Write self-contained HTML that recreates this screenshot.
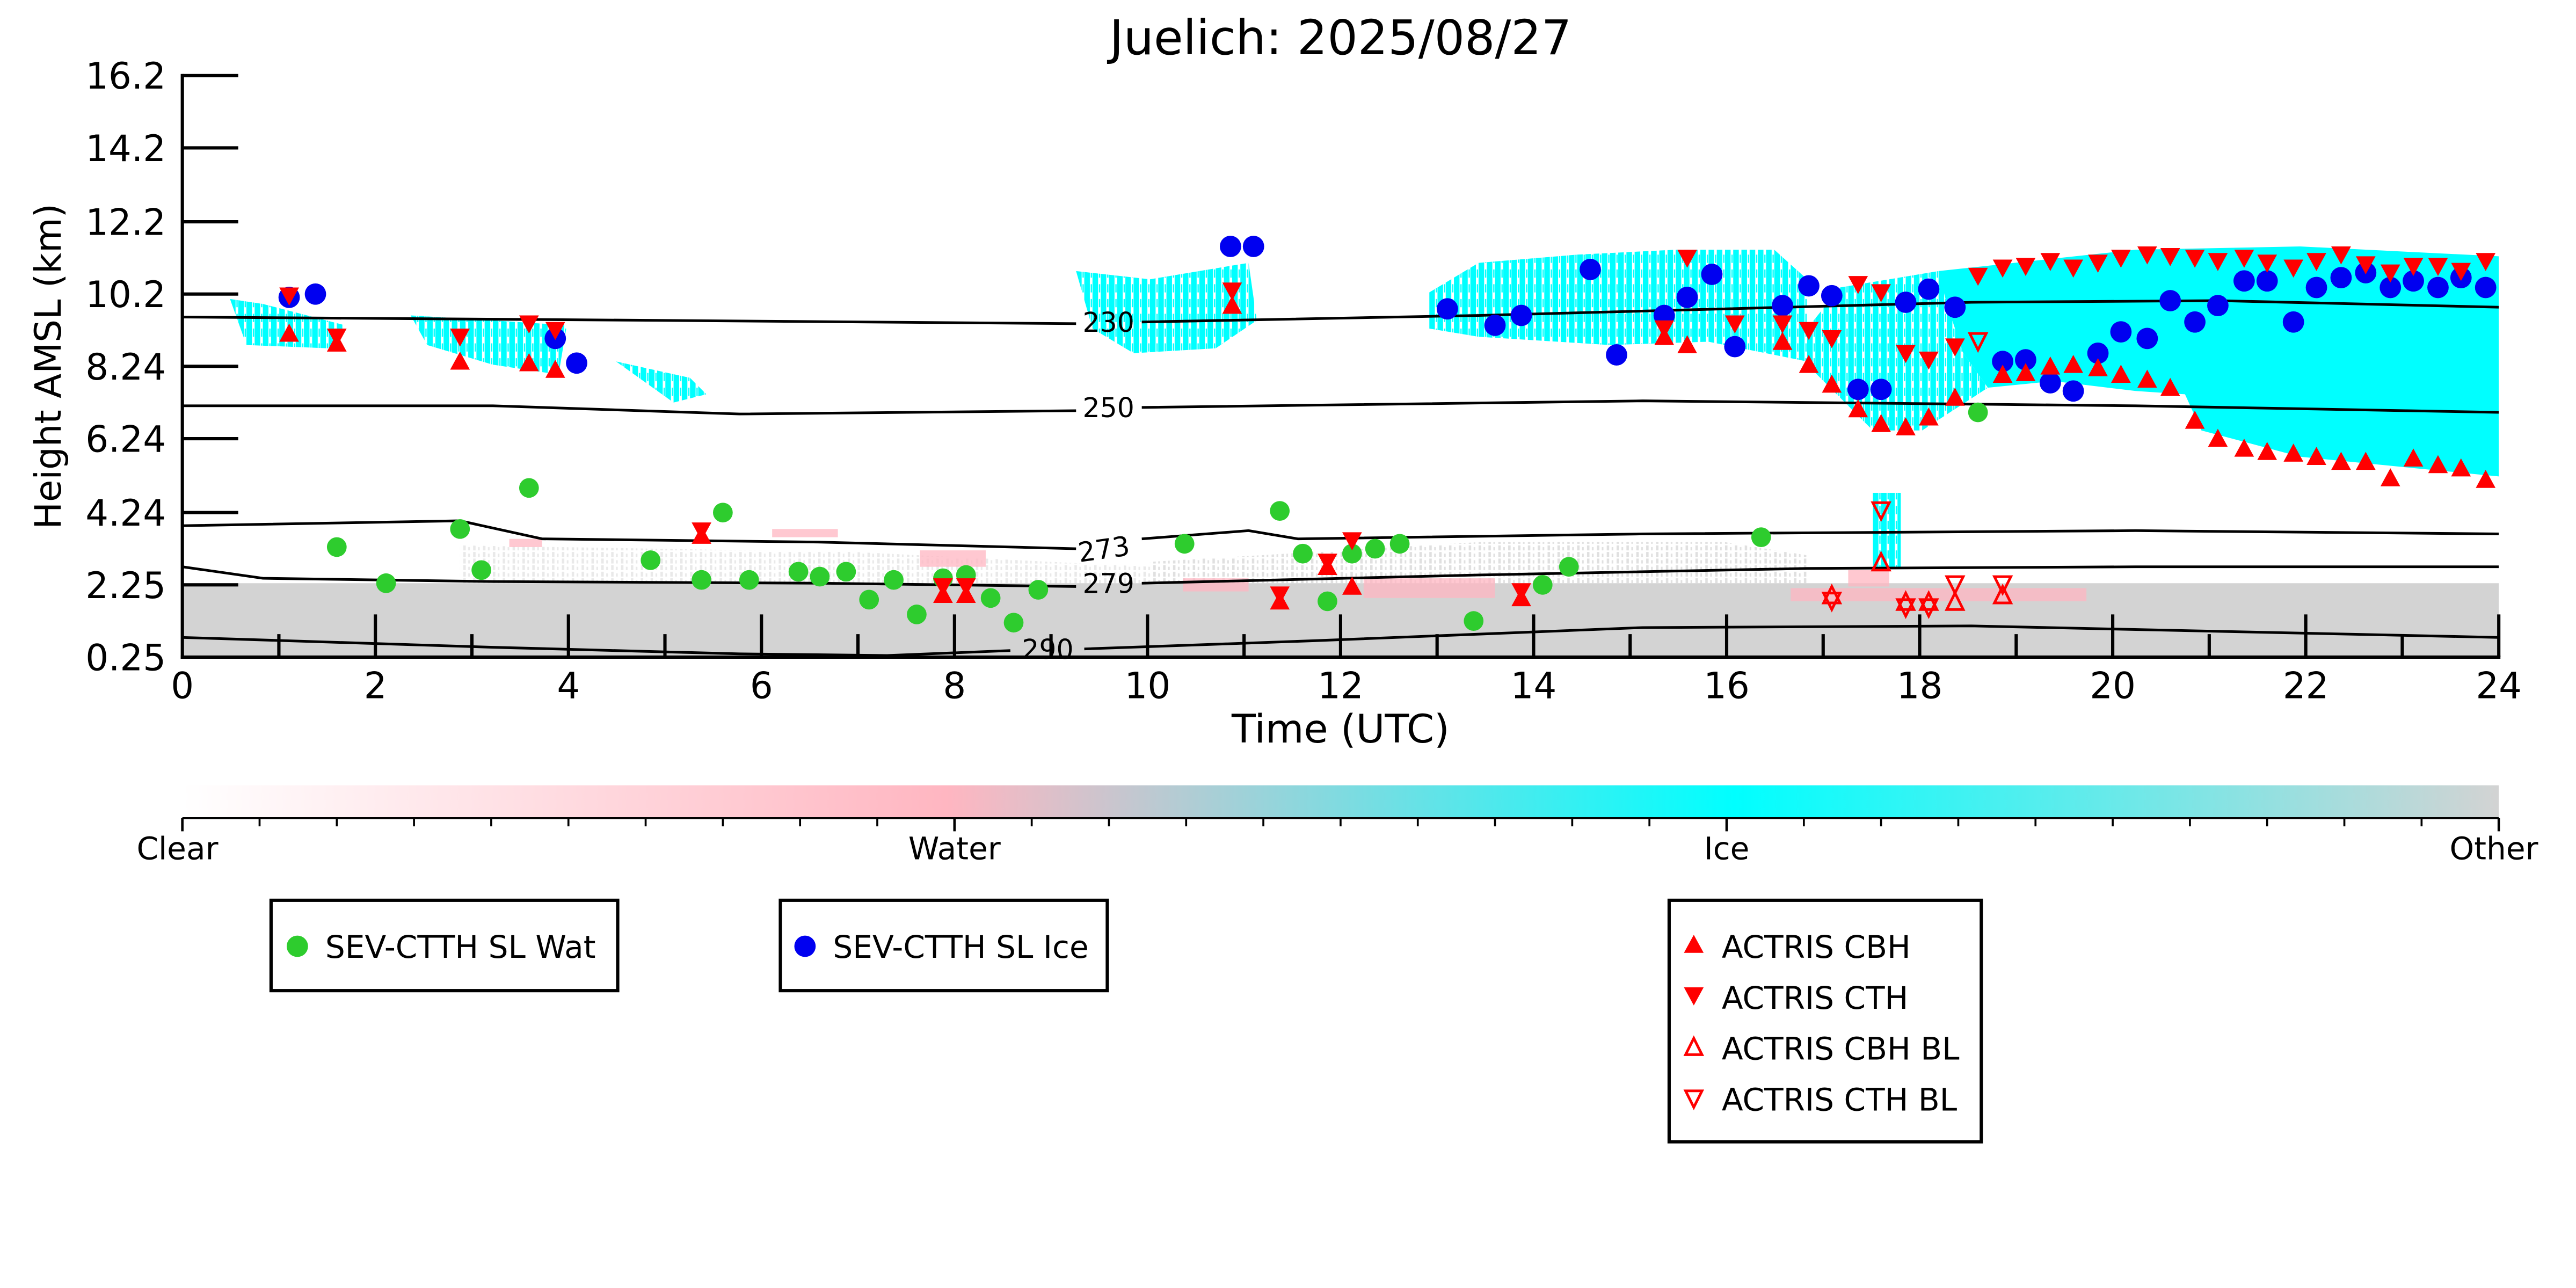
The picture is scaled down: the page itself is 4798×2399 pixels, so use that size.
<!DOCTYPE html>
<html><head><meta charset="utf-8"><style>
html,body{margin:0;padding:0;background:#fff;}
svg{display:block;}
text{font-family:"DejaVu Sans","Liberation Sans",sans-serif;}
</style></head><body>
<svg width="4798" height="2399" viewBox="0 0 1568 784" xmlns="http://www.w3.org/2000/svg">
<defs>
<linearGradient id="cb" x1="0" x2="1" y1="0" y2="0">
<stop offset="0" stop-color="#ffffff"/>
<stop offset="0.33" stop-color="#ffb6c1"/>
<stop offset="0.67" stop-color="#00ffff"/>
<stop offset="1" stop-color="#d3d3d3"/>
</linearGradient>
<pattern id="st" width="5" height="9" patternUnits="userSpaceOnUse">
<rect x="0" y="0" width="3.4" height="9" fill="#00ffff"/><rect x="3.9" y="2" width="0.8" height="5" fill="#00ffff"/>
</pattern>
<pattern id="gs" width="6" height="4" patternUnits="userSpaceOnUse">
<rect x="0" y="0" width="1.5" height="3" fill="#d3d3d3"/><rect x="3" y="1" width="1" height="2" fill="#d3d3d3"/>
</pattern>
</defs>
<text x="816" y="33" font-size="29" text-anchor="middle">Juelich: 2025/08/27</text>

<!-- gray low cloud -->
<path d="M111,355 L1521,355 L1521,400 L111,400 Z" fill="#d3d3d3"/>
<path d="M700,342 L800,336 L900,330 L1050,330 L1100,338 L1100,355 L700,355 Z" fill="url(#gs)" opacity="0.7"/>
<path d="M280,332 L400,334 L520,336 L700,345 L700,355 L280,355 Z" fill="url(#gs)" opacity="0.5"/>
<g fill="#ffb6c1" opacity="0.75">
<rect x="310" y="328" width="20" height="5"/><rect x="470" y="322" width="40" height="5"/>
<rect x="560" y="335" width="40" height="10"/><rect x="720" y="352" width="40" height="8"/><rect x="830" y="352" width="80" height="12"/>
<rect x="1090" y="358" width="180" height="8"/><rect x="1125" y="347" width="25" height="10"/>
</g>
<!-- cyan ice -->
<path d="M1180,165 L1300,152 L1400,150 L1521,156 L1521,290 L1470,285 L1400,278 L1340,262 L1330,240 L1300,238 L1250,232 L1210,236 L1195,215 L1185,185 Z" fill="#00ffff"/>
<path d="M1100,200 L1120,175 L1180,165 L1195,215 L1210,236 L1170,262 L1140,262 L1120,242 L1100,222 Z" fill="url(#st)"/>
<path d="M870,178 L900,160 L960,155 L1020,152 L1080,152 L1100,170 L1100,220 L1040,208 L980,210 L900,205 L870,200 Z" fill="url(#st)"/>
<path d="M140,182 L160,185 L210,198 L200,212 L150,210 Z" fill="url(#st)"/>
<path d="M250,192 L300,195 L345,198 L340,228 L300,222 L260,210 Z" fill="url(#st)"/>
<path d="M375,220 L420,230 L430,240 L410,245 Z" fill="url(#st)"/>
<path d="M655,165 L700,170 L760,160 L765,195 L740,212 L690,215 L665,200 Z" fill="url(#st)"/>
<rect x="1140" y="300" width="17" height="45" fill="url(#st)"/>

<!-- contours -->
<g fill="none" stroke="#000" stroke-width="1.6">
<path d="M111,193 L400,195 L655,197 M695,196 L900,192 L1200,184 L1350,183 L1521,187"/>
<path d="M111,247 L300,247 L450,252 L655,250 M695,248 L1000,244 L1300,247 L1521,251"/>
<path d="M111,320 L280,317 L330,328 L500,330 L655,334 M695,328 L760,323 L790,328 L1000,325 L1300,323 L1521,325"/>
<path d="M111,345 L160,352 L300,354 L500,355 L655,357 M695,355 L900,350 L1100,346 L1300,345 L1521,345"/>
<path d="M111,388 L300,394 L450,398 L540,399 L615,396 M660,395 L800,390 L1000,382 L1200,381 L1521,388"/>
</g>
<g font-size="16.5">
<text x="659" y="202">230</text><text x="659" y="254">250</text>
<text x="656" y="340" transform="rotate(-8 672 333)">273</text>
<text x="659" y="361">279</text><text x="622" y="401">290</text>
</g>

<!-- markers -->
<g fill="#2ecc2e">
<circle cx="205" cy="333" r="6"/><circle cx="235" cy="355" r="6"/><circle cx="280" cy="322" r="6"/><circle cx="293" cy="347" r="6"/><circle cx="322" cy="297" r="6"/><circle cx="396" cy="341" r="6"/><circle cx="427" cy="353" r="6"/><circle cx="440" cy="312" r="6"/><circle cx="456" cy="353" r="6"/><circle cx="486" cy="348" r="6"/><circle cx="499" cy="351" r="6"/><circle cx="515" cy="348" r="6"/><circle cx="529" cy="365" r="6"/><circle cx="544" cy="353" r="6"/><circle cx="558" cy="374" r="6"/><circle cx="574" cy="352" r="6"/><circle cx="588" cy="350" r="6"/><circle cx="603" cy="364" r="6"/><circle cx="617" cy="379" r="6"/><circle cx="632" cy="359" r="6"/><circle cx="721" cy="331" r="6"/><circle cx="779" cy="311" r="6"/><circle cx="793" cy="337" r="6"/><circle cx="808" cy="366" r="6"/><circle cx="823" cy="337" r="6"/><circle cx="837" cy="334" r="6"/><circle cx="852" cy="331" r="6"/><circle cx="897" cy="378" r="6"/><circle cx="939" cy="356" r="6"/><circle cx="955" cy="345" r="6"/><circle cx="1072" cy="327" r="6"/><circle cx="1204" cy="251" r="6"/>
</g>
<g fill="#0000f0">
<circle cx="176" cy="181" r="6.5"/><circle cx="192" cy="179" r="6.5"/><circle cx="338" cy="206" r="6.5"/><circle cx="351" cy="221" r="6.5"/><circle cx="749" cy="150" r="6.5"/><circle cx="763" cy="150" r="6.5"/><circle cx="881" cy="188" r="6.5"/><circle cx="910" cy="198" r="6.5"/><circle cx="926" cy="192" r="6.5"/><circle cx="968" cy="164" r="6.5"/><circle cx="984" cy="216" r="6.5"/><circle cx="1013" cy="192" r="6.5"/><circle cx="1027" cy="181" r="6.5"/><circle cx="1042" cy="167" r="6.5"/><circle cx="1056" cy="211" r="6.5"/><circle cx="1085" cy="186" r="6.5"/><circle cx="1101" cy="174" r="6.5"/><circle cx="1115" cy="180" r="6.5"/><circle cx="1131" cy="237" r="6.5"/><circle cx="1145" cy="237" r="6.5"/><circle cx="1160" cy="184" r="6.5"/><circle cx="1174" cy="176" r="6.5"/><circle cx="1190" cy="187" r="6.5"/><circle cx="1219" cy="220" r="6.5"/><circle cx="1233" cy="219" r="6.5"/><circle cx="1248" cy="233" r="6.5"/><circle cx="1262" cy="238" r="6.5"/><circle cx="1277" cy="215" r="6.5"/><circle cx="1291" cy="202" r="6.5"/><circle cx="1307" cy="206" r="6.5"/><circle cx="1321" cy="183" r="6.5"/><circle cx="1336" cy="196" r="6.5"/><circle cx="1350" cy="186" r="6.5"/><circle cx="1366" cy="171" r="6.5"/><circle cx="1380" cy="171" r="6.5"/><circle cx="1396" cy="196" r="6.5"/><circle cx="1410" cy="175" r="6.5"/><circle cx="1425" cy="169" r="6.5"/><circle cx="1440" cy="166" r="6.5"/><circle cx="1455" cy="175" r="6.5"/><circle cx="1469" cy="171" r="6.5"/><circle cx="1484" cy="175" r="6.5"/><circle cx="1498" cy="169" r="6.5"/><circle cx="1513" cy="175" r="6.5"/>
</g>
<g fill="red">
<path d="M176,197l6,11h-12z M205,203l6,11h-12z M280,214l6,11h-12z M322,215l6,11h-12z M338,219l6,11h-12z M427,320l6,11h-12z M574,356l6,11h-12z M588,356l6,11h-12z M779,360l6,11h-12z M808,339l6,11h-12z M823,351l6,11h-12z M926,358l6,11h-12z M750,180l6,11h-12z M1013,199l6,11h-12z M1027,204l6,11h-12z M1085,202l6,11h-12z M1101,216l6,11h-12z M1115,228l6,11h-12z M1131,243l6,11h-12z M1145,252l6,11h-12z M1160,254l6,11h-12z M1174,248l6,11h-12z M1190,236l6,11h-12z M1219,222l6,11h-12z M1233,221l6,11h-12z M1248,217l6,11h-12z M1262,216l6,11h-12z M1277,218l6,11h-12z M1291,222l6,11h-12z M1307,225l6,11h-12z M1321,230l6,11h-12z M1336,250l6,11h-12z M1350,261l6,11h-12z M1366,267l6,11h-12z M1380,269l6,11h-12z M1396,270l6,11h-12z M1410,272l6,11h-12z M1425,275l6,11h-12z M1440,275l6,11h-12z M1455,285l6,11h-12z M1469,273l6,11h-12z M1484,277l6,11h-12z M1498,279l6,11h-12z M1513,286l6,11h-12z"/>
<path d="M176,186l6,-11h-12z M205,211l6,-11h-12z M280,211l6,-11h-12z M322,203l6,-11h-12z M338,207l6,-11h-12z M427,329l6,-11h-12z M574,363l6,-11h-12z M588,363l6,-11h-12z M779,368l6,-11h-12z M808,348l6,-11h-12z M823,335l6,-11h-12z M926,366l6,-11h-12z M750,183l6,-11h-12z M1013,206l6,-11h-12z M1027,163l6,-11h-12z M1056,203l6,-11h-12z M1085,203l6,-11h-12z M1101,207l6,-11h-12z M1115,212l6,-11h-12z M1131,179l6,-11h-12z M1145,184l6,-11h-12z M1160,221l6,-11h-12z M1174,225l6,-11h-12z M1190,217l6,-11h-12z M1204,174l6,-11h-12z M1219,169l6,-11h-12z M1233,168l6,-11h-12z M1248,165l6,-11h-12z M1262,169l6,-11h-12z M1277,166l6,-11h-12z M1291,163l6,-11h-12z M1307,161l6,-11h-12z M1321,162l6,-11h-12z M1336,163l6,-11h-12z M1350,165l6,-11h-12z M1366,163l6,-11h-12z M1380,166l6,-11h-12z M1396,169l6,-11h-12z M1410,165l6,-11h-12z M1425,161l6,-11h-12z M1440,167l6,-11h-12z M1455,172l6,-11h-12z M1469,168l6,-11h-12z M1484,168l6,-11h-12z M1498,171l6,-11h-12z M1513,165l6,-11h-12z"/>
</g>
<g fill="none" stroke="red" stroke-width="1.6">
<path d="M1145,337l5,10h-10z M1115,357l5,10h-10z M1160,361l5,10h-10z M1174,361l5,10h-10z M1190,361l5,10h-10z M1219,357l5,10h-10z"/>
<path d="M1145,316l5,-10h-10z M1115,371l5,-10h-10z M1160,375l5,-10h-10z M1174,375l5,-10h-10z M1190,361l5,-10h-10z M1219,361l5,-10h-10z M1204,213l5,-10h-10z"/>
</g>

<!-- axes -->
<g stroke="#000" stroke-width="2" fill="none">
<line x1="111" y1="45" x2="111" y2="401"/>
<line x1="110" y1="400" x2="1522" y2="400"/>
<line x1="1521" y1="374" x2="1521" y2="400"/>
<path d="M111,46h34 M111,90h34 M111,135h34 M111,179h34 M111,223h34 M111,267h34 M111,312h34 M111,356h34"/>
<path d="M228.5,374v26 M346,374v26 M463.5,374v26 M581,374v26 M698.5,374v26 M816,374v26 M933.5,374v26 M1051,374v26 M1168.5,374v26 M1286,374v26 M1403.5,374v26"/>
<path d="M169.75,386v14 M287.25,386v14 M404.75,386v14 M522.25,386v14 M639.75,386v14 M757.25,386v14 M874.75,386v14 M992.25,386v14 M1109.75,386v14 M1227.25,386v14 M1344.75,386v14 M1462.25,386v14"/>
</g>
<g font-size="22" text-anchor="end">
<text x="101" y="54">16.2</text><text x="101" y="98">14.2</text><text x="101" y="143">12.2</text><text x="101" y="187">10.2</text><text x="101" y="231">8.24</text><text x="101" y="275">6.24</text><text x="101" y="320">4.24</text><text x="101" y="364">2.25</text><text x="101" y="408">0.25</text>
</g>
<g font-size="22" text-anchor="middle">
<text x="111" y="425">0</text><text x="228.5" y="425">2</text><text x="346" y="425">4</text><text x="463.5" y="425">6</text><text x="581" y="425">8</text><text x="698.5" y="425">10</text><text x="816" y="425">12</text><text x="933.5" y="425">14</text><text x="1051" y="425">16</text><text x="1168.5" y="425">18</text><text x="1286" y="425">20</text><text x="1403.5" y="425">22</text><text x="1521" y="425">24</text>
<text x="816" y="452" font-size="24">Time (UTC)</text>
<text x="0" y="0" transform="translate(37 223) rotate(-90)">Height AMSL (km)</text>
</g>

<!-- colorbar -->
<rect x="111" y="478" width="1410" height="20" fill="url(#cb)"/>
<g stroke="#000" stroke-width="1.2">
<line x1="111" y1="498" x2="1521" y2="498"/>
<path d="M111,498v8 M581,498v8 M1051,498v8 M1521,498v8" stroke-width="1.5"/>
<path d="M158,498v5 M205,498v5 M252,498v5 M299,498v5 M346,498v5 M393,498v5 M440,498v5 M487,498v5 M534,498v5 M628,498v5 M675,498v5 M722,498v5 M769,498v5 M816,498v5 M863,498v5 M910,498v5 M957,498v5 M1004,498v5 M1098,498v5 M1145,498v5 M1192,498v5 M1239,498v5 M1286,498v5 M1333,498v5 M1380,498v5 M1427,498v5 M1474,498v5"/>
</g>
<g font-size="19" text-anchor="middle">
<text x="108" y="523">Clear</text><text x="581" y="523">Water</text><text x="1051" y="523">Ice</text><text x="1518" y="523">Other</text>
</g>

<!-- legends -->
<g fill="none" stroke="#000" stroke-width="2">
<rect x="165" y="548" width="211" height="55"/>
<rect x="475" y="548" width="199" height="55"/>
<rect x="1016" y="548" width="190" height="147"/>
</g>
<g font-size="19">
<circle cx="181" cy="576" r="6.5" fill="#2ecc2e"/><text x="198" y="583">SEV-CTTH SL Wat</text>
<circle cx="490" cy="576" r="6.5" fill="#0000f0"/><text x="507" y="583">SEV-CTTH SL Ice</text>
<path d="M1031,569l6,11h-12z" fill="red"/><text x="1048" y="583">ACTRIS CBH</text>
<path d="M1031,612l6,-11h-12z" fill="red"/><text x="1048" y="614">ACTRIS CTH</text>
<path d="M1031,632l5,10h-10z" fill="none" stroke="red" stroke-width="1.6"/><text x="1048" y="645">ACTRIS CBH BL</text>
<path d="M1031,674l5,-10h-10z" fill="none" stroke="red" stroke-width="1.6"/><text x="1048" y="676">ACTRIS CTH BL</text>
</g>
</svg>
</body></html>
